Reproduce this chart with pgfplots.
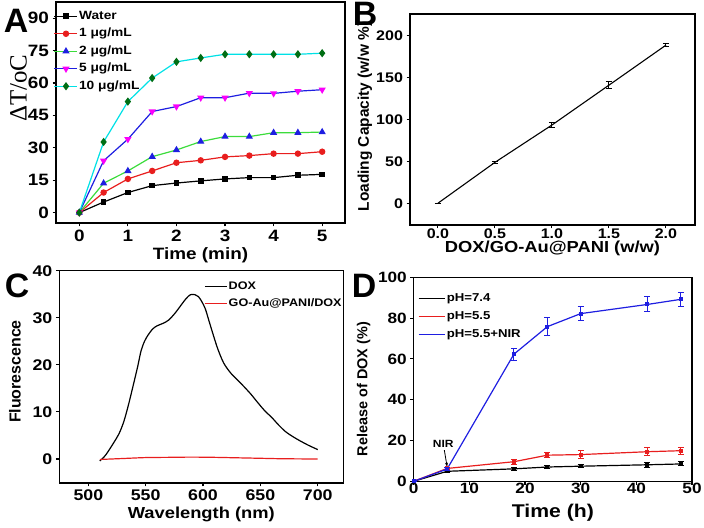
\documentclass[border=0pt]{standalone}
\usepackage{fontspec}
\setmainfont{Liberation Sans}[FakeStretch=1.15]
\newfontfamily\plain{Liberation Sans}
\newfontfamily\serif{Liberation Serif}
\usepackage{pgfplots}
\pgfplotsset{compat=1.18}
\usetikzlibrary{arrows.meta}
\newcommand\fs[1]{\fontsize{#1}{#1}\selectfont}

\definecolor{cred}{RGB}{232,30,30}
\definecolor{cgreen}{RGB}{60,220,60}
\definecolor{cblue}{RGB}{30,30,225}
\definecolor{cmag}{RGB}{250,0,250}
\definecolor{ccyan}{RGB}{0,225,230}
\definecolor{cdgreen}{RGB}{0,110,20}

\pgfplotsset{
  panel/.style={
    scale only axis, anchor=south west,
    axis line style={line width=1.1bp},
    tick align=outside, tick pos=left, major tick length=3.5bp,
    every tick/.style={black, line width=1.1bp},
    /pgf/number format/assume math mode=true,
    legend cell align=left,
    legend style={draw=none, fill=none, inner sep=0pt},
  },
  limg/.style={legend image code/.code={
    \draw[mark repeat=2,mark phase=2,##1] plot coordinates {(0bp,0bp) (#1/2,0bp) (#1,0bp)};}},
  lline/.style={legend image code/.code={
    \draw[##1, mark=none] (0bp,0bp) -- (#1,0bp);}},
  ebar/.style={
    /pgfplots/error bars/y dir=both,
    /pgfplots/error bars/y explicit,
    /pgfplots/error bars/error bar style={line width=1bp},
    /pgfplots/error bars/error mark options={rotate=90, mark size=3bp, line width=1bp}},
}

\begin{document}
\begin{tikzpicture}
\useasboundingbox (0,0) rectangle (704bp,528bp);

% ---- A: temperature rise
\begin{axis}[panel, at={(56bp,305bp)}, width=289bp, height=221bp,
  xmin=-0.48, xmax=5.47, ymin=-4.8, ymax=97.5,
  xtick={0,...,5}, ytick={0,15,...,90},
  ticklabel style={font=\bfseries\fs{16.5}},
  xlabel={Time (min)}, xlabel style={font=\bfseries\fs{16.5}, at={(axis description cs:0.5,-0.145)}, anchor=center},
  ylabel={\serif ΔT/oC}, ylabel style={font=\fs{25}, at={(axis description cs:-0.13,0.61)}, anchor=center},
  limg=23bp,
  legend style={at={(axis description cs:-0.008,0.968)}, anchor=north west,
    font=\bfseries\fs{12}, row sep=3.5bp, nodes={text height=9bp, text depth=3bp, inner sep=1bp}},
  every axis plot/.append style={line width=1.2bp},
]
\addplot[black, mark=square*, mark size=2.2bp] coordinates {
(0,0) (0.5,4.9) (1,9.3) (1.5,12.5) (2,13.7) (2.5,14.7) (3,15.6) (3.5,16.2) (4,16.2) (4.5,17.3) (5,17.7)};
\addplot[cred, mark=*, mark size=2.6bp] coordinates {
(0,0) (0.5,9.3) (1,15.6) (1.5,19.3) (2,23.1) (2.5,24.2) (3,25.8) (3.5,26.4) (4,27.3) (4.5,27.3) (5,28.2)};
\addplot[cgreen, mark=triangle*, mark size=3bp, mark options={cblue}] coordinates {
(0,0) (0.5,13.6) (1,19.3) (1.5,25.9) (2,29) (2.5,32.9) (3,35.2) (3.5,35.2) (4,37) (4.5,37) (5,37.3)};
\addplot[cblue, mark=triangle*, mark size=3bp, mark options={cmag, rotate=180}] coordinates {
(0,0) (0.5,24) (1,34) (1.5,46.8) (2,49.1) (2.5,53.2) (3,53.2) (3.5,55.3) (4,55.2) (4.5,56.2) (5,56.9)};
\addplot[ccyan, mark=diamond*, mark size=3.2bp, mark options={cdgreen}] coordinates {
(0,0) (0.5,32.7) (1,51.4) (1.5,62.3) (2,69.8) (2.5,71.6) (3,73.3) (3.5,73.3) (4,73.3) (4.5,73.3) (5,73.8)};
\legend{Water, 1 μg/mL, 2 μg/mL, 5 μg/mL, 10 μg/mL}
\end{axis}

% ---- B: loading capacity
\begin{axis}[panel, at={(410bp,303bp)}, width=285bp, height=211bp,
  xmin=-0.245, xmax=2.255, ymin=-26, ymax=226,
  xtick={0,0.5,...,2}, ytick={0,50,...,200},
  ticklabel style={font=\bfseries\fs{14}},
  xticklabel style={/pgf/number format/fixed, /pgf/number format/fixed zerofill,
    /pgf/number format/precision=1, yshift=3bp},
  xlabel={DOX/GO-Au@PANI (w/w)}, xlabel style={font=\bfseries\fs{16}, at={(axis description cs:0.5,-0.113)}, anchor=center},
  ylabel={Loading Capacity (w/w \%)}, ylabel style={font=\plain\bfseries\fs{15.5}, at={(axis description cs:-0.158,0.514)}, anchor=center},
]
\addplot[black, line width=1.1bp, ebar] table[x=x, y=y, y error=e] {
x y e
0 0 0
0.5 48.8 0.8
1.0 93.4 2.8
1.5 141 3.8
2.0 188.8 1.6
};
\end{axis}

% ---- C: fluorescence
\begin{axis}[panel, at={(59.3bp,45bp)}, width=284bp, height=212.3bp,
  xmin=474.7, xmax=722.3, ymin=-5.1, ymax=40,
  xtick={500,550,...,700}, ytick={0,10,...,40},
  ticklabel style={font=\bfseries\fs{15.5}},
  xticklabel style={yshift=0bp},
  xlabel={Wavelength (nm)}, xlabel style={font=\bfseries\fs{16}, at={(axis description cs:0.5,-0.147)}, anchor=center},
  ylabel={Fluorescence}, ylabel style={font=\plain\bfseries\fs{16}, at={(axis description cs:-0.156,0.525)}, anchor=center},
  lline=22bp,
  legend style={at={(axis description cs:0.51,0.959)}, anchor=north west,
    font=\bfseries\fs{11}, row sep=3.6bp, nodes={text height=8.5bp, text depth=2.5bp, inner sep=1.2bp}},
  every axis plot/.append style={line width=1.2bp},
]
\addplot[black, smooth] coordinates {
(510,-0.4) (515,0.8) (522,3.4) (527,5.5) (531,8) (535,11.5) (539,15.5) (543,19.6) (546,23.0)
(549,25.0) (552,26.3) (556,27.6) (560,28.3) (565,28.8) (570,29.5) (575,30.8) (580,32.4)
(585,34.0) (589,34.9) (593,34.9) (596,34.5) (599,33.4) (602,31.9) (605,29.5) (609,26.3)
(613,23.3) (618,20.4) (624,18.3) (630,16.8) (636,15.3) (642,13.7) (648,11.9) (654,10.2)
(660,8.8) (666,7.2) (672,5.8) (678,4.8) (685,3.8) (692,2.9) (700,2.0)};
\addplot[cred, smooth] coordinates {
(510,-0.1) (530,0.1) (550,0.3) (570,0.35) (590,0.4) (610,0.35) (630,0.25) (650,0.15) (670,0.05) (700,0)};
\legend{DOX, GO-Au@PANI/DOX}
\end{axis}

% ---- D: release
\begin{axis}[panel, at={(413.7bp,46.7bp)}, width=278.3bp, height=204bp,
  xmin=0, xmax=50, ymin=0, ymax=100,
  xtick={0,10,...,50}, ytick={0,20,...,100},
  ticklabel style={font=\bfseries\fs{15}},
  xticklabel style={yshift=5bp},
  xlabel={Time (h)}, xlabel style={font=\bfseries\fs{18.5}, at={(axis description cs:0.5,-0.152)}, anchor=center},
  ylabel={Release of DOX (\%)}, ylabel style={font=\plain\bfseries\fs{14.5}, at={(axis description cs:-0.18,0.452)}, anchor=center},
  lline=26bp,
  legend style={at={(axis description cs:0.015,0.935)}, anchor=north west,
    font=\bfseries\fs{11.5}, row sep=3.3bp, nodes={text height=9bp, text depth=3bp, inner sep=1.5bp}},
  every axis plot/.append style={line width=1.2bp, mark=square*, mark size=1.4bp},
]
\addplot[black, ebar] table[x=x, y=y, y error=e] {
x y e
0 0 0
6 4.9 0.4
18 6.1 0.6
24 7.0 0.6
30 7.4 0.8
42 8.1 1.1
48 8.5 1.0
};
\addplot[cred, ebar] table[x=x, y=y, y error=e] {
x y e
0 0 0
6 6.3 0.5
18 9.6 1.2
24 12.8 1.2
30 13.1 1.9
42 14.5 1.9
48 15.0 1.8
};
\addplot[cblue, ebar] table[x=x, y=y, y error=e] {
x y e
0 0 0
6 6.0 0.6
18 62.3 2.9
24 75.8 4.3
30 82.2 3.5
42 86.7 3.7
48 89.2 3.5
};
\legend{pH=7.4, pH=5.5, pH=5.5+NIR}
\node[font=\bfseries\fs{10.5}] at (axis cs:5.3,18.3) {NIR};
\draw[-{Stealth[length=4bp]}, line width=0.8bp] (axis cs:5.5,15.3) -- (axis cs:6.0,7.2);
\end{axis}

\node[font=\plain\bfseries\fs{34}, inner sep=0pt] at (16bp,507bp) {A};
\node[font=\plain\bfseries\fs{34}, inner sep=0pt] at (365bp,514bp) {B};
\node[font=\plain\bfseries\fs{34}, inner sep=0pt] at (17bp,242bp) {C};
\node[font=\plain\bfseries\fs{34}, inner sep=0pt] at (364bp,242bp) {D};
\end{tikzpicture}
\end{document}
